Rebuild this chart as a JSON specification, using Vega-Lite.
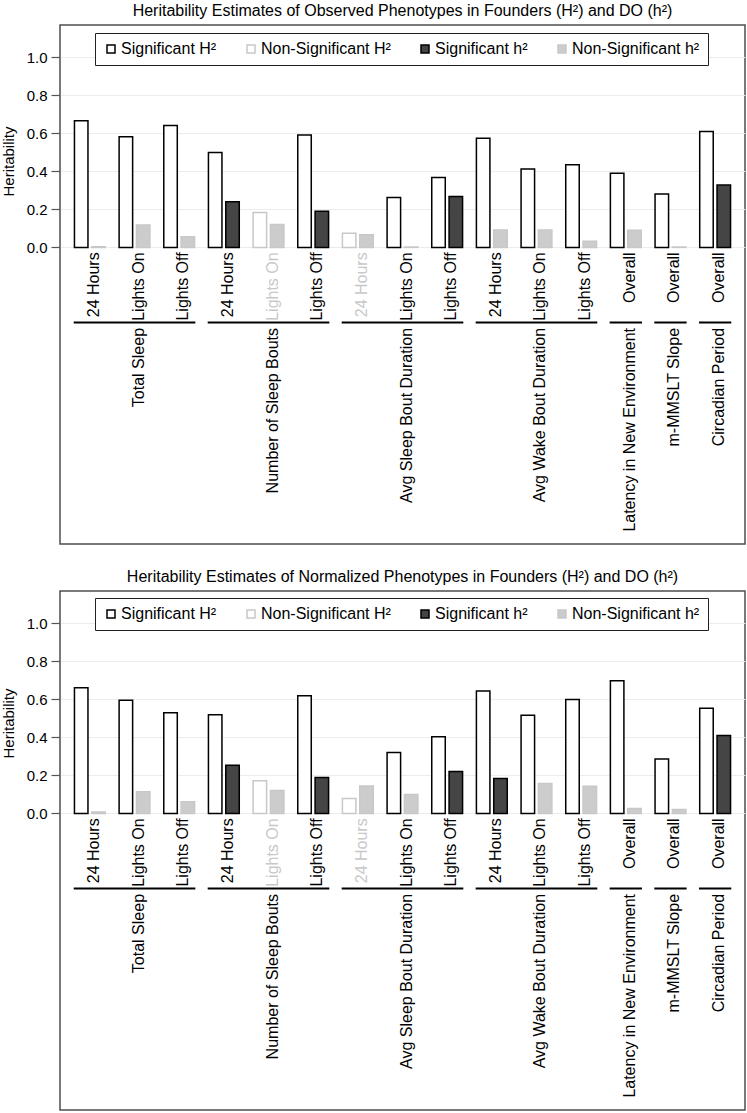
{
  "$schema": "https://vega.github.io/schema/vega-lite/v6.json",
  "padding": {"top": 2, "left": 0, "right": 0, "bottom": 0},
  "background": "white",
  "spacing": 23,
  "config": {
    "font": "Liberation Sans",
    "view": {"stroke": "#4d4d4d", "strokeWidth": 1.5},
    "title": {"fontSize": 16, "fontWeight": "normal", "color": "black", "offset": 6, "anchor": "middle"},
    "axisY": {
      "domain": false,
      "grid": true,
      "gridColor": "#ececec",
      "gridWidth": 1,
      "tickColor": "#555555",
      "tickSize": 9,
      "tickWidth": 1.2,
      "labelFontSize": 15,
      "labelColor": "black",
      "labelPadding": 4,
      "titleFontSize": 15,
      "titleFontWeight": "normal",
      "titleColor": "black",
      "titlePadding": 10
    }
  },
  "datasets": {
    "obs": [
      {"g": "Total Sleep", "c": "24 Hours", "H": 0.667, "Hs": true, "h": 0.003, "hs": false},
      {"g": "Total Sleep", "c": "Lights On", "H": 0.583, "Hs": true, "h": 0.118, "hs": false},
      {"g": "Total Sleep", "c": "Lights Off", "H": 0.641, "Hs": true, "h": 0.056, "hs": false},
      {"g": "Number of Sleep Bouts", "c": "24 Hours", "H": 0.500, "Hs": true, "h": 0.240, "hs": true},
      {"g": "Number of Sleep Bouts", "c": "Lights On", "H": 0.184, "Hs": false, "h": 0.120, "hs": false},
      {"g": "Number of Sleep Bouts", "c": "Lights Off", "H": 0.592, "Hs": true, "h": 0.190, "hs": true},
      {"g": "Avg Sleep Bout Duration", "c": "24 Hours", "H": 0.074, "Hs": false, "h": 0.067, "hs": false},
      {"g": "Avg Sleep Bout Duration", "c": "Lights On", "H": 0.263, "Hs": true, "h": 0.002, "hs": false},
      {"g": "Avg Sleep Bout Duration", "c": "Lights Off", "H": 0.368, "Hs": true, "h": 0.268, "hs": true},
      {"g": "Avg Wake Bout Duration", "c": "24 Hours", "H": 0.574, "Hs": true, "h": 0.091, "hs": false},
      {"g": "Avg Wake Bout Duration", "c": "Lights On", "H": 0.413, "Hs": true, "h": 0.091, "hs": false},
      {"g": "Avg Wake Bout Duration", "c": "Lights Off", "H": 0.435, "Hs": true, "h": 0.032, "hs": false},
      {"g": "Latency in New Environment", "c": "Overall", "H": 0.390, "Hs": true, "h": 0.090, "hs": false},
      {"g": "m-MMSLT Slope", "c": "Overall", "H": 0.281, "Hs": true, "h": 0.002, "hs": false},
      {"g": "Circadian Period", "c": "Overall", "H": 0.610, "Hs": true, "h": 0.328, "hs": true}
    ],
    "norm": [
      {"g": "Total Sleep", "c": "24 Hours", "H": 0.661, "Hs": true, "h": 0.008, "hs": false},
      {"g": "Total Sleep", "c": "Lights On", "H": 0.595, "Hs": true, "h": 0.114, "hs": false},
      {"g": "Total Sleep", "c": "Lights Off", "H": 0.530, "Hs": true, "h": 0.061, "hs": false},
      {"g": "Number of Sleep Bouts", "c": "24 Hours", "H": 0.519, "Hs": true, "h": 0.254, "hs": true},
      {"g": "Number of Sleep Bouts", "c": "Lights On", "H": 0.172, "Hs": false, "h": 0.120, "hs": false},
      {"g": "Number of Sleep Bouts", "c": "Lights Off", "H": 0.619, "Hs": true, "h": 0.189, "hs": true},
      {"g": "Avg Sleep Bout Duration", "c": "24 Hours", "H": 0.079, "Hs": false, "h": 0.144, "hs": false},
      {"g": "Avg Sleep Bout Duration", "c": "Lights On", "H": 0.321, "Hs": true, "h": 0.100, "hs": false},
      {"g": "Avg Sleep Bout Duration", "c": "Lights Off", "H": 0.403, "Hs": true, "h": 0.221, "hs": true},
      {"g": "Avg Wake Bout Duration", "c": "24 Hours", "H": 0.644, "Hs": true, "h": 0.184, "hs": true},
      {"g": "Avg Wake Bout Duration", "c": "Lights On", "H": 0.517, "Hs": true, "h": 0.158, "hs": false},
      {"g": "Avg Wake Bout Duration", "c": "Lights Off", "H": 0.600, "Hs": true, "h": 0.143, "hs": false},
      {"g": "Latency in New Environment", "c": "Overall", "H": 0.698, "Hs": true, "h": 0.026, "hs": false},
      {"g": "m-MMSLT Slope", "c": "Overall", "H": 0.286, "Hs": true, "h": 0.021, "hs": false},
      {"g": "Circadian Period", "c": "Overall", "H": 0.553, "Hs": true, "h": 0.410, "hs": true}
    ],
    "groups": [
      {"g": "Total Sleep", "first": "Total Sleep|24 Hours", "last": "Total Sleep|Lights Off"},
      {"g": "Number of Sleep Bouts", "first": "Number of Sleep Bouts|24 Hours", "last": "Number of Sleep Bouts|Lights Off"},
      {"g": "Avg Sleep Bout Duration", "first": "Avg Sleep Bout Duration|24 Hours", "last": "Avg Sleep Bout Duration|Lights Off"},
      {"g": "Avg Wake Bout Duration", "first": "Avg Wake Bout Duration|24 Hours", "last": "Avg Wake Bout Duration|Lights Off"},
      {"g": "Latency in New Environment", "first": "Latency in New Environment|Overall", "last": "Latency in New Environment|Overall"},
      {"g": "m-MMSLT Slope", "first": "m-MMSLT Slope|Overall", "last": "m-MMSLT Slope|Overall"},
      {"g": "Circadian Period", "first": "Circadian Period|Overall", "last": "Circadian Period|Overall"}
    ]
  },
  "resolve": {
    "scale": {"fill": "independent", "stroke": "independent"},
    "legend": {"fill": "independent", "stroke": "independent"}
  },
  "vconcat": [
    {
      "title": "Heritability Estimates of Observed Phenotypes in Founders (H²) and DO (h²)",
      "width": 685,
      "height": 519,
      "layer": [
        {
          "data": {"name": "obs"},
          "transform": [
            {"calculate": "datum.g + '|' + datum.c", "as": "id"},
            {"fold": ["H", "h"], "as": ["est", "value"]},
            {"calculate": "datum.est == 'H' ? (datum.Hs ? 'Significant H²' : 'Non-Significant H²') : (datum.hs ? 'Significant h²' : 'Non-Significant h²')", "as": "series"}
          ],
          "mark": {"type": "bar", "strokeWidth": 1.5},
          "encoding": {
            "x": {"field": "id", "type": "nominal", "axis": null,
              "scale": {"domain": ["Total Sleep|24 Hours", "Total Sleep|Lights On", "Total Sleep|Lights Off", "Number of Sleep Bouts|24 Hours", "Number of Sleep Bouts|Lights On", "Number of Sleep Bouts|Lights Off", "Avg Sleep Bout Duration|24 Hours", "Avg Sleep Bout Duration|Lights On", "Avg Sleep Bout Duration|Lights Off", "Avg Wake Bout Duration|24 Hours", "Avg Wake Bout Duration|Lights On", "Avg Wake Bout Duration|Lights Off", "Latency in New Environment|Overall", "m-MMSLT Slope|Overall", "Circadian Period|Overall"], "paddingInner": 0.2764, "paddingOuter": 0.307}},
            "xOffset": {"field": "est", "type": "nominal", "sort": ["H", "h"], "scale": {"paddingInner": 0.22, "paddingOuter": 0.043}},
            "y": {"field": "value", "type": "quantitative", "title": "Heritability",
              "scale": {"domain": [-1.561, 1.1705], "nice": false, "zero": false},
              "axis": {"values": [0, 0.2, 0.4, 0.6, 0.8, 1.0], "format": ".1f", "titleY": 136, "titleAnchor": null}},
            "fill": {"field": "series", "type": "nominal",
              "scale": {"domain": ["Significant H²", "Non-Significant H²", "Significant h²", "Non-Significant h²"], "range": ["white", "white", "#454545", "#cccccc"]},
              "legend": {"orient": "none", "legendX": 35, "legendY": 8, "direction": "horizontal", "columns": 4, "title": null, "symbolType": "square", "symbolSize": 64, "symbolStrokeWidth": 1.5, "labelFontSize": 16, "labelColor": "black", "labelOffset": 2, "columnPadding": 26, "padding": 8, "strokeColor": "#222222", "fillColor": "white"}},
            "stroke": {"field": "series", "type": "nominal",
              "scale": {"domain": ["Significant H²", "Non-Significant H²", "Significant h²", "Non-Significant h²"], "range": ["black", "#c8c8c8", "black", "#c8c8c8"]},
              "legend": {"orient": "none", "legendX": 35, "legendY": 8, "direction": "horizontal", "columns": 4, "title": null, "symbolType": "square", "symbolSize": 64, "symbolStrokeWidth": 1.5, "labelFontSize": 16, "labelColor": "black", "labelOffset": 2, "columnPadding": 26, "padding": 8, "strokeColor": "#222222", "fillColor": "white"}}
          }
        },
        {
          "mark": {"type": "rule", "color": "#777777", "strokeWidth": 2},
          "encoding": {"y": {"datum": 0, "type": "quantitative"}}
        },
        {
          "data": {"name": "obs"},
          "transform": [{"calculate": "datum.g + '|' + datum.c", "as": "id"}],
          "mark": {"type": "text", "angle": 270, "align": "right", "baseline": "middle", "fontSize": 16, "dy": 4},
          "encoding": {
            "x": {"field": "id", "type": "nominal"},
            "y": {"datum": -0.026, "type": "quantitative"},
            "text": {"field": "c"},
            "color": {"condition": {"test": "datum.Hs", "value": "black"}, "value": "#c8c8c8"}
          }
        },
        {
          "data": {"name": "groups"},
          "mark": {"type": "rule", "color": "black", "strokeWidth": 2},
          "encoding": {
            "x": {"field": "first", "type": "nominal", "bandPosition": 0},
            "x2": {"field": "last", "bandPosition": 1},
            "y": {"datum": -0.395, "type": "quantitative"}
          }
        },
        {
          "data": {"name": "obs"},
          "transform": [
            {"filter": "datum.c == 'Lights On' || datum.c == 'Overall'"},
            {"calculate": "datum.g + '|' + datum.c", "as": "id"}
          ],
          "mark": {"type": "text", "angle": 270, "align": "right", "baseline": "middle", "fontSize": 16, "color": "black", "dy": 4},
          "encoding": {
            "x": {"field": "id", "type": "nominal"},
            "y": {"datum": -0.424, "type": "quantitative"},
            "text": {"field": "g"}
          }
        }
      ]
    },
    {
      "title": "Heritability Estimates of Normalized Phenotypes in Founders (H²) and DO (h²)",
      "width": 685,
      "height": 519,
      "layer": [
        {
          "data": {"name": "norm"},
          "transform": [
            {"calculate": "datum.g + '|' + datum.c", "as": "id"},
            {"fold": ["H", "h"], "as": ["est", "value"]},
            {"calculate": "datum.est == 'H' ? (datum.Hs ? 'Significant H²' : 'Non-Significant H²') : (datum.hs ? 'Significant h²' : 'Non-Significant h²')", "as": "series"}
          ],
          "mark": {"type": "bar", "strokeWidth": 1.5},
          "encoding": {
            "x": {"field": "id", "type": "nominal", "axis": null,
              "scale": {"domain": ["Total Sleep|24 Hours", "Total Sleep|Lights On", "Total Sleep|Lights Off", "Number of Sleep Bouts|24 Hours", "Number of Sleep Bouts|Lights On", "Number of Sleep Bouts|Lights Off", "Avg Sleep Bout Duration|24 Hours", "Avg Sleep Bout Duration|Lights On", "Avg Sleep Bout Duration|Lights Off", "Avg Wake Bout Duration|24 Hours", "Avg Wake Bout Duration|Lights On", "Avg Wake Bout Duration|Lights Off", "Latency in New Environment|Overall", "m-MMSLT Slope|Overall", "Circadian Period|Overall"], "paddingInner": 0.2764, "paddingOuter": 0.307}},
            "xOffset": {"field": "est", "type": "nominal", "sort": ["H", "h"], "scale": {"paddingInner": 0.22, "paddingOuter": 0.043}},
            "y": {"field": "value", "type": "quantitative", "title": "Heritability",
              "scale": {"domain": [-1.561, 1.1705], "nice": false, "zero": false},
              "axis": {"values": [0, 0.2, 0.4, 0.6, 0.8, 1.0], "format": ".1f", "titleY": 132, "titleAnchor": null}},
            "fill": {"field": "series", "type": "nominal",
              "scale": {"domain": ["Significant H²", "Non-Significant H²", "Significant h²", "Non-Significant h²"], "range": ["white", "white", "#454545", "#cccccc"]},
              "legend": {"orient": "none", "legendX": 35, "legendY": 7, "direction": "horizontal", "columns": 4, "title": null, "symbolType": "square", "symbolSize": 64, "symbolStrokeWidth": 1.5, "labelFontSize": 16, "labelColor": "black", "labelOffset": 2, "columnPadding": 26, "padding": 8, "strokeColor": "#222222", "fillColor": "white"}},
            "stroke": {"field": "series", "type": "nominal",
              "scale": {"domain": ["Significant H²", "Non-Significant H²", "Significant h²", "Non-Significant h²"], "range": ["black", "#c8c8c8", "black", "#c8c8c8"]},
              "legend": {"orient": "none", "legendX": 35, "legendY": 7, "direction": "horizontal", "columns": 4, "title": null, "symbolType": "square", "symbolSize": 64, "symbolStrokeWidth": 1.5, "labelFontSize": 16, "labelColor": "black", "labelOffset": 2, "columnPadding": 26, "padding": 8, "strokeColor": "#222222", "fillColor": "white"}}
          }
        },
        {
          "mark": {"type": "rule", "color": "#777777", "strokeWidth": 2},
          "encoding": {"y": {"datum": 0, "type": "quantitative"}}
        },
        {
          "data": {"name": "norm"},
          "transform": [{"calculate": "datum.g + '|' + datum.c", "as": "id"}],
          "mark": {"type": "text", "angle": 270, "align": "right", "baseline": "middle", "fontSize": 16, "dy": 4},
          "encoding": {
            "x": {"field": "id", "type": "nominal"},
            "y": {"datum": -0.026, "type": "quantitative"},
            "text": {"field": "c"},
            "color": {"condition": {"test": "datum.Hs", "value": "black"}, "value": "#c8c8c8"}
          }
        },
        {
          "data": {"name": "groups"},
          "mark": {"type": "rule", "color": "black", "strokeWidth": 2},
          "encoding": {
            "x": {"field": "first", "type": "nominal", "bandPosition": 0},
            "x2": {"field": "last", "bandPosition": 1},
            "y": {"datum": -0.395, "type": "quantitative"}
          }
        },
        {
          "data": {"name": "norm"},
          "transform": [
            {"filter": "datum.c == 'Lights On' || datum.c == 'Overall'"},
            {"calculate": "datum.g + '|' + datum.c", "as": "id"}
          ],
          "mark": {"type": "text", "angle": 270, "align": "right", "baseline": "middle", "fontSize": 16, "color": "black", "dy": 4},
          "encoding": {
            "x": {"field": "id", "type": "nominal"},
            "y": {"datum": -0.424, "type": "quantitative"},
            "text": {"field": "g"}
          }
        }
      ]
    }
  ]
}
